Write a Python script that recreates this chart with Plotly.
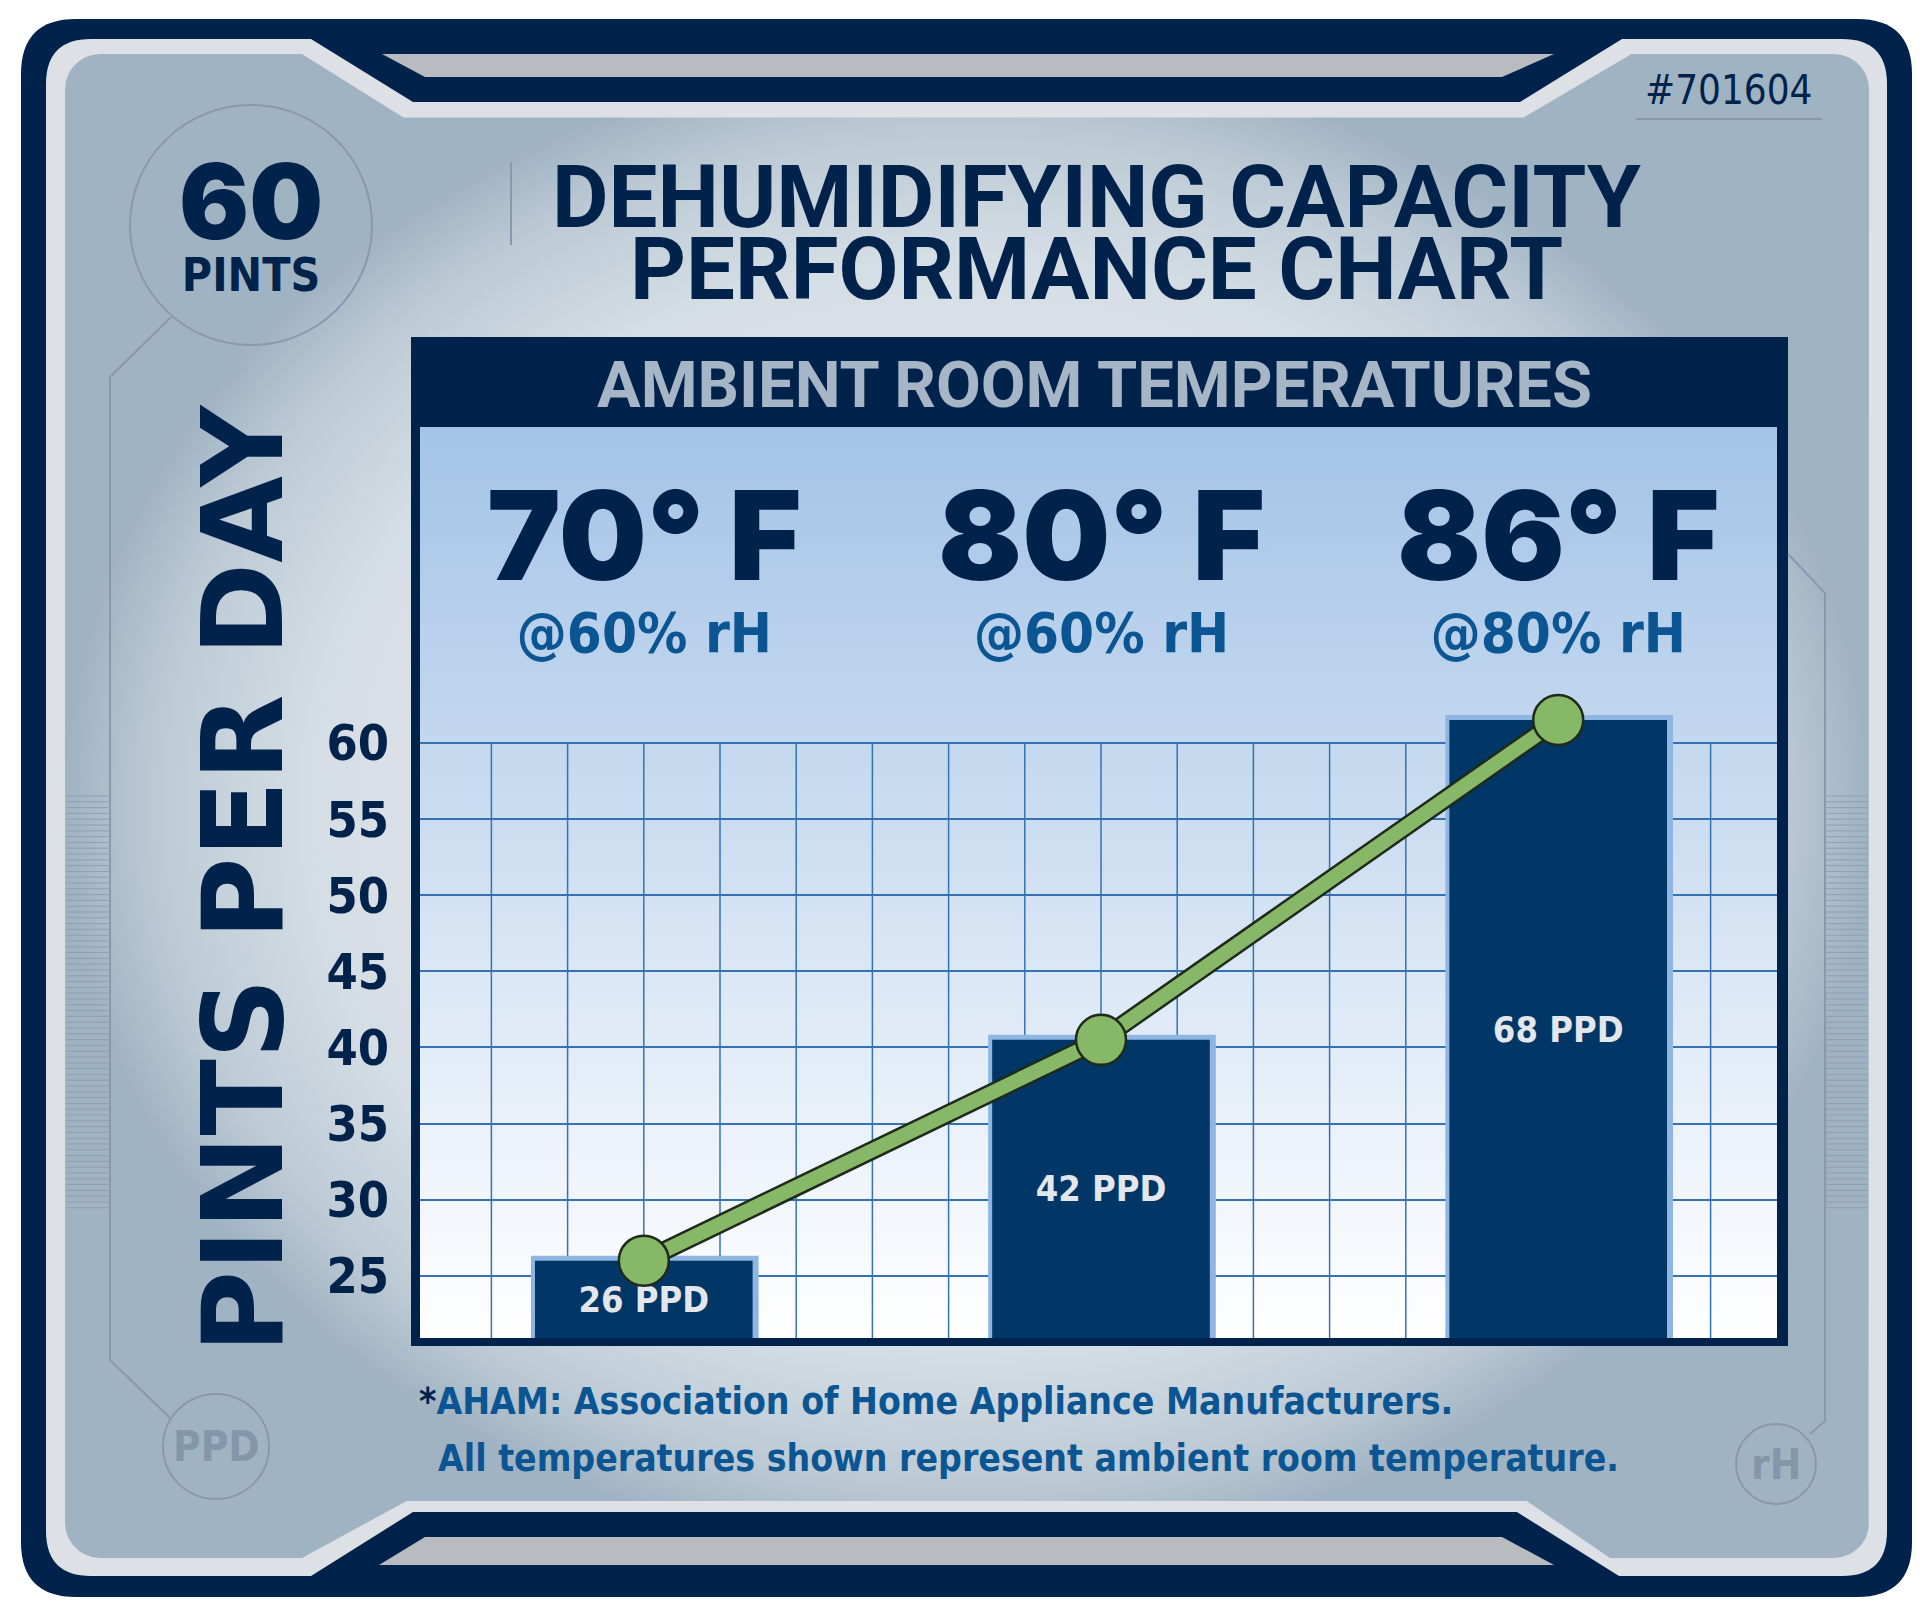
import numpy as np
import plotly.graph_objects as go

# ---- data ----
temps = ["70° F", "80° F", "86° F"]
humidity = ["@60% rH", "@60% rH", "@80% rH"]
ppd_values = [26, 40.5, 61.5]          # bar heights on the pints-per-day scale
ppd_labels = ["26 PPD", "42 PPD", "68 PPD"]
y_ticks = [25, 30, 35, 40, 45, 50, 55, 60]
xpos = list(range(len(temps)))

# ---- geometry of the picture (pixels) ----
W, H = 1932, 1617
PL, PR, PT, PB = 420, 1777, 427, 1338      # inner chart box
CX0, CSTEP = 643.8, 457.2                  # first category centre, category spacing
PXU = 15.23                                # pixels per pint
Y0 = 25 - (PB - 1275.9) / PXU
YTOP = Y0 + (PB - PT) / PXU
XL, XR = (PL - CX0) / CSTEP, (PR - CX0) / CSTEP
GSTEP = 1 / 6                              # grid cells per category

NAVY = "#00224b"
LIGHT = "#dde1e5"
BARGRAY = "#b8bcc1"
DECO = "#8799ab"
MIDBLUE = "#0b5592"
BARCOL = "#003766"
SHADOW = "#8fb5e3"
GREEN = "#87b868"
DARK = "#1f2a1c"
GRID = "#3572b3"

COND = "DejaVu Sans Condensed, sans-serif"
HEAVY = "Inter"


def arc(cx, cy, r, a0, a1, n=8):
    a = np.radians(np.linspace(a0, a1, n))
    return list(cx + r * np.cos(a)), list(cy + r * np.sin(a))


def fy(py):
    return 1 - py / H


def span(text, size, family, weight, color):
    return (f"<span style='font-size:{size}px;font-family:{family};"
            f"font-weight:{weight};color:{color}'>{text}</span>")


fig = go.Figure()

# panel with notches, radial gradient
px_, py_ = [], []
def add(xs, ys):
    px_.extend(xs); py_.extend(ys)
add([100, 302, 403.5, 1523.6, 1631.5, 1834], [54, 54, 117.5, 117.5, 54, 54])
add(*arc(1834, 89, 35, 270, 360))
add([1868.6], [1523])
add(*arc(1834, 1523, 35, 0, 90))
add([1610, 1526.7, 406.7, 302, 100], [1558, 1501, 1501, 1558, 1558])
add(*arc(100, 1523, 35, 90, 180))
add([65], [89])
add(*arc(100, 89, 35, 180, 270))
fig.add_trace(go.Scatter(
    x=px_, y=py_, fill="toself", mode="lines", line=dict(width=0),
    fillgradient=dict(type="radial",
                      colorscale=[[0, "#edf1f4"], [0.72, "#d6dee5"],
                                  [0.9, "#bccad5"], [1, "#a0b3c3"]]),
    hoverinfo="skip", showlegend=False, xaxis="x", yaxis="y"))

# navy box around the chart
fig.add_trace(go.Scatter(
    x=[411, 1788, 1788, 411, 411], y=[337, 337, 1346, 1346, 337],
    fill="toself", fillcolor=NAVY, mode="lines", line=dict(width=0),
    hoverinfo="skip", showlegend=False, xaxis="x", yaxis="y"))

# light blue -> white chart background
fig.add_trace(go.Scatter(
    x=[PL, PR, PR, PL, PL], y=[PT, PT, PB, PB, PT],
    fill="toself", mode="lines", line=dict(width=0),
    fillgradient=dict(type="vertical", start=PT, stop=PB,
                      colorscale=[[0, "#a4c3e6"], [1, "#ffffff"]]),
    hoverinfo="skip", showlegend=False, xaxis="x", yaxis="y"))

# bars: light shadow then main bar
bar_len = [v - Y0 for v in ppd_values]
fig.add_trace(go.Bar(
    x=xpos, y=bar_len, base=Y0, width=0.476, offset=-0.238 + 1 / CSTEP,
    marker=dict(color=SHADOW, line=dict(color=SHADOW, width=10)),
    hoverinfo="skip", showlegend=False, xaxis="x2", yaxis="y2"))
fig.add_trace(go.Bar(
    x=xpos, y=bar_len, base=Y0, width=0.476,
    marker=dict(color=BARCOL, line=dict(width=0)),
    text=ppd_labels, textposition="inside", insidetextanchor="middle",
    textangle=0, constraintext="none",
    textfont=dict(family=COND, size=36, color="#e3e6ea", weight=700),
    hoverinfo="skip", showlegend=False, xaxis="x2", yaxis="y2"))

# green line with dark outline
fig.add_trace(go.Scatter(
    x=xpos, y=ppd_values, mode="lines", line=dict(color=DARK, width=19),
    cliponaxis=False, hoverinfo="skip", showlegend=False, xaxis="x2", yaxis="y2"))
fig.add_trace(go.Scatter(
    x=xpos, y=ppd_values, mode="lines+markers", line=dict(color=GREEN, width=14),
    marker=dict(size=50, color=GREEN, line=dict(color=DARK, width=2.5)),
    cliponaxis=False, hoverinfo="skip", showlegend=False, xaxis="x2", yaxis="y2"))

# ---- frame shapes ----
shapes = [
    dict(type="path", layer="below", xref="x", yref="y", fillcolor=NAVY, line_width=0,
         path="M 76,19 H 1857 Q 1912,19 1912,74 V 1542 Q 1912,1597 1857,1597 H 76 "
              "Q 21,1597 21,1542 V 74 Q 21,19 76,19 Z"),
    dict(type="path", layer="below", xref="x", yref="y", fillcolor=LIGHT, line_width=0,
         path="M 91,39 H 311 L 413,102 H 1520 L 1622,39 H 1842 Q 1887,39 1887,84 V 1531 "
              "Q 1887,1576 1842,1576 H 1619 L 1517,1512 H 413 L 311,1576 H 91 "
              "Q 46,1576 46,1531 V 84 Q 46,39 91,39 Z"),
    dict(type="path", layer="below", xref="x", yref="y", fillcolor=BARGRAY, line_width=0,
         path="M 382,54 H 1554 L 1502,77 H 425 Z"),
    dict(type="path", layer="below", xref="x", yref="y", fillcolor=BARGRAY, line_width=0,
         path="M 425,1537 H 1502 L 1554,1565 H 379 Z"),
]
# vertical grid only below the 60 line
for gx in np.arange(np.ceil(XL / GSTEP), np.floor(XR / GSTEP) + 1) * GSTEP:
    shapes.append(dict(type="line", layer="between", xref="x2", yref="y2",
                       x0=gx, x1=gx, y0=Y0, y1=60, line=dict(color=GRID, width=1.5)))
deco = dict(type="path", layer="above", xref="x", yref="y", line=dict(color=DECO, width=2))
shapes.append({**deco, "path": "M 171,317 L 110,377 L 110,1360 L 171,1419"})
shapes.append({**deco, "path": "M 1788,554 L 1825,593 L 1825,1421 L 1810,1434"})
shapes.append({**deco, "path": "M 511,162 L 511,245"})
shapes.append({**deco, "path": "M 1636,119 L 1822,119"})
for x0, y0, x1, y1 in [(130, 105, 372, 345), (163, 1394, 269, 1499), (1736, 1424, 1816, 1504)]:
    shapes.append(dict(type="circle", layer="above", xref="x", yref="y",
                       x0=x0, y0=y0, x1=x1, y1=y1, line=dict(color=DECO, width=2)))
# ruler ticks at both sides
for xa, xb in [(66, 110), (1825, 1868)]:
    segs = " ".join(f"M {xa},{y:.1f} L {xb},{y:.1f}" for y in np.arange(796, 1208, 5.8))
    shapes.append(dict(type="path", layer="above", xref="x", yref="y", path=segs,
                       line=dict(color="#8d9fb1", width=1)))


def note(text, x, y, size, color=NAVY, family=COND, weight=700, xanchor="center", **kw):
    return dict(text=text, x=x / W, y=fy(y), xref="paper", yref="paper",
                xanchor=xanchor, yanchor="middle", showarrow=False,
                font=dict(family=family, size=size, color=color, weight=weight), **kw)


ann = [
    note(span("60", 104, HEAVY, 900, NAVY) + "<br>" + span("PINTS", 46, "DejaVu Sans Condensed", 700, NAVY),
         251, 220, 40),
    note(span("DEHUMIDIFYING CAPACITY", 87, "Roboto", 700, NAVY) + "<br>"
         + span("PERFORMANCE CHART", 87, "Roboto", 700, NAVY), 1096, 233, 55),
    note("#701604", 1729, 90, 40, weight=400),
    note("AMBIENT ROOM TEMPERATURES", 1094, 385, 65, color="#a7b6c6",
         family="Roboto, sans-serif"),
    note("PINTS PER DAY", 243, 878, 112, family="DejaVu Sans, sans-serif", textangle=-90),
    note("<span style='color:%s'>*</span>AHAM: Association of Home Appliance Manufacturers." % NAVY,
         417, 1401, 37, color=MIDBLUE, xanchor="left"),
    note("All temperatures shown represent ambient room temperature.",
         436, 1458, 37, color=MIDBLUE, xanchor="left"),
    note("PPD", 216, 1446, 42, color="#8497aa"),
    note("rH", 1776, 1464, 42, color="#8497aa"),
]
for i, (t, h) in enumerate(zip(temps, humidity)):
    txt = span(t, 124, HEAVY, 900, NAVY) + "<br>" + span(h, 56, "DejaVu Sans Condensed", 700, MIDBLUE)
    ann.append(dict(text=txt, x=xpos[i], y=fy(562), xref="x2", yref="paper", showarrow=False,
                    xanchor="center", yanchor="middle",
                    font=dict(family=COND, size=55, color=NAVY)))

fig.update_layout(
    width=W, height=H, margin=dict(l=0, r=0, t=0, b=0),
    paper_bgcolor="white", plot_bgcolor="rgba(0,0,0,0)",
    barmode="overlay", showlegend=False, shapes=shapes, annotations=ann,
    xaxis=dict(domain=[0, 1], range=[0, W], visible=False, fixedrange=True),
    yaxis=dict(domain=[0, 1], range=[H, 0], visible=False, fixedrange=True),
    xaxis2=dict(anchor="y2", domain=[PL / W, PR / W], range=[XL, XR],
                showgrid=False, zeroline=False, showticklabels=False, ticks="",
                showline=False, fixedrange=True),
    yaxis2=dict(anchor="x2", domain=[fy(PB), fy(PT)], range=[Y0, YTOP],
                tickvals=y_ticks, showgrid=True, gridcolor=GRID, gridwidth=1.5,
                zeroline=False, showline=False, ticks="", ticklabelstandoff=30,
                tickfont=dict(family=COND, size=50, color=NAVY, weight=700),
                fixedrange=True),
)

fig.write_html("out.html", config={"displayModeBar": False},
               post_script="document.body.style.margin='0';")
